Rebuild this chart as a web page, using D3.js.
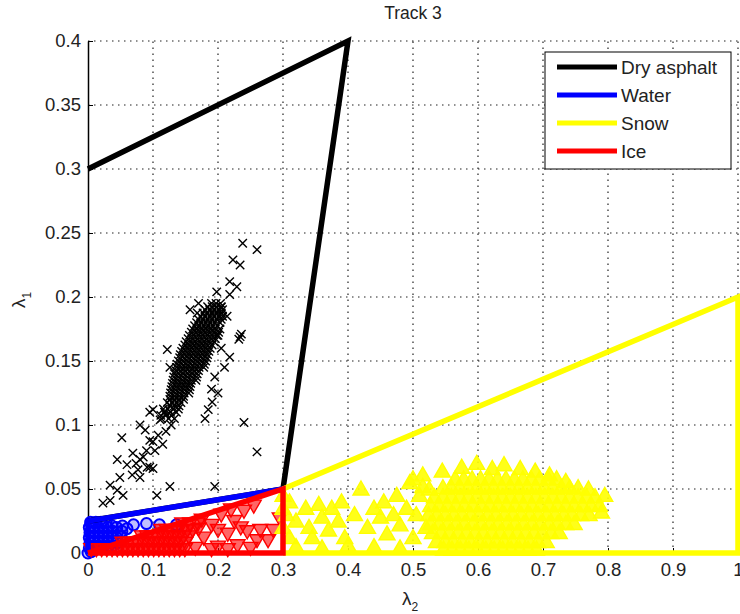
<!DOCTYPE html>
<html><head><meta charset="utf-8">
<script src="https://cdn.jsdelivr.net/npm/d3@7"></script>
<style>
body{margin:0;background:#fff}
svg{display:block;font-family:"Liberation Sans",Arial,sans-serif}
</style>
</head><body>
<svg id="chart" width="740" height="614"></svg>
<script>
// ---------- data ----------
const titleText = "Track 3";
const xTicks = [0,0.1,0.2,0.3,0.4,0.5,0.6,0.7,0.8,0.9,1];
const xTickLabels = ["0","0.1","0.2","0.3","0.4","0.5","0.6","0.7","0.8","0.9","1"];
const yTicks = [0,0.05,0.1,0.15,0.2,0.25,0.3,0.35,0.4];
const yTickLabels = ["0","0.05","0.1","0.15","0.2","0.25","0.3","0.35","0.4"];

const regionNames = ["Dry asphalt","Water","Snow","Ice"];
const regionColors = ["#000000","#0000ff","#ffff00","#ff0000"];

// region boundaries (data units)
const dryBoundary  = [[0,0.3],[0.4,0.4],[0.3,0.05],[0,0.025]];
const waterBoundary = [[0,0],[0,0.025],[0.3,0.05]];
const snowBoundary = [[0.3,0.05],[1,0.2],[1,0],[0.3,0]];
const iceBoundary  = [[0,0],[0.3,0.05],[0.3,0],[0,0]];

// measured points: dry asphalt (x markers)
const dryPoints = [
[0.190,0.195],[0.197,0.195],[0.204,0.195],
[0.180,0.19],[0.187,0.19],[0.194,0.19],[0.201,0.19],[0.207,0.19],
[0.173,0.185],[0.180,0.185],[0.187,0.185],[0.194,0.185],[0.201,0.185],[0.207,0.185],
[0.167,0.18],[0.174,0.18],[0.181,0.18],[0.188,0.18],[0.195,0.18],[0.203,0.18],
[0.161,0.175],[0.168,0.175],[0.175,0.175],[0.182,0.175],[0.189,0.175],[0.196,0.175],[0.203,0.175],
[0.156,0.17],[0.163,0.17],[0.170,0.17],[0.177,0.17],[0.184,0.17],[0.191,0.17],[0.198,0.17],
[0.151,0.165],[0.158,0.165],[0.165,0.165],[0.172,0.165],[0.179,0.165],[0.186,0.165],[0.194,0.165],
[0.146,0.16],[0.153,0.16],[0.160,0.16],[0.167,0.16],[0.174,0.16],[0.181,0.16],[0.188,0.16],
[0.142,0.155],[0.149,0.155],[0.156,0.155],[0.163,0.155],[0.170,0.155],[0.177,0.155],[0.184,0.155],
[0.139,0.15],[0.146,0.15],[0.153,0.15],[0.160,0.15],[0.167,0.15],[0.174,0.15],[0.181,0.15],
[0.136,0.145],[0.143,0.145],[0.150,0.145],[0.157,0.145],[0.164,0.145],[0.171,0.145],[0.178,0.145],
[0.133,0.14],[0.140,0.14],[0.147,0.14],[0.154,0.14],[0.161,0.14],[0.168,0.14],
[0.131,0.135],[0.138,0.135],[0.145,0.135],[0.152,0.135],[0.159,0.135],[0.166,0.135],
[0.129,0.13],[0.136,0.13],[0.143,0.13],[0.150,0.13],[0.157,0.13],
[0.127,0.125],[0.134,0.125],[0.141,0.125],[0.148,0.125],[0.155,0.125],
[0.126,0.12],[0.133,0.12],[0.140,0.12],[0.147,0.12],
[0.126,0.115],[0.133,0.115],[0.140,0.115],
[0.118,0.11],[0.127,0.11],[0.136,0.11],
[0.113,0.105],[0.124,0.105],[0.133,0.105],
[0.184,0.1925],[0.191,0.1925],[0.198,0.1925],[0.205,0.1925],
[0.177,0.1875],[0.184,0.1875],[0.191,0.1875],[0.198,0.1875],[0.205,0.1875],
[0.170,0.1825],[0.177,0.1825],[0.184,0.1825],[0.191,0.1825],[0.198,0.1825],[0.205,0.1825],
[0.164,0.1775],[0.171,0.1775],[0.178,0.1775],[0.185,0.1775],[0.192,0.1775],[0.199,0.1775],
[0.159,0.1725],[0.166,0.1725],[0.173,0.1725],[0.180,0.1725],[0.187,0.1725],[0.194,0.1725],[0.201,0.1725],
[0.154,0.1675],[0.161,0.1675],[0.168,0.1675],[0.175,0.1675],[0.182,0.1675],[0.189,0.1675],[0.196,0.1675],
[0.149,0.1625],[0.156,0.1625],[0.163,0.1625],[0.170,0.1625],[0.177,0.1625],[0.184,0.1625],[0.191,0.1625],
[0.144,0.1575],[0.151,0.1575],[0.158,0.1575],[0.165,0.1575],[0.172,0.1575],[0.179,0.1575],[0.186,0.1575],
[0.141,0.1525],[0.148,0.1525],[0.155,0.1525],[0.162,0.1525],[0.169,0.1525],[0.176,0.1525],[0.183,0.1525],
[0.137,0.1475],[0.144,0.1475],[0.151,0.1475],[0.158,0.1475],[0.165,0.1475],[0.172,0.1475],[0.179,0.1475],
[0.135,0.1425],[0.142,0.1425],[0.149,0.1425],[0.156,0.1425],[0.163,0.1425],[0.170,0.1425],
[0.132,0.1375],[0.139,0.1375],[0.146,0.1375],[0.153,0.1375],[0.160,0.1375],[0.167,0.1375],
[0.130,0.1325],[0.137,0.1325],[0.144,0.1325],[0.151,0.1325],[0.158,0.1325],
[0.128,0.1275],[0.135,0.1275],[0.142,0.1275],[0.149,0.1275],[0.156,0.1275],
[0.126,0.1225],[0.133,0.1225],[0.140,0.1225],[0.147,0.1225],
[0.122,0.1175],[0.129,0.1175],[0.136,0.1175],[0.143,0.1175],
[0.116,0.1125],[0.123,0.1125],[0.131,0.1125],[0.139,0.1125],
[0.112,0.1075],[0.120,0.1075],[0.128,0.1075],
[0.238,0.242],[0.260,0.237],[0.223,0.229],[0.234,0.225],[0.218,0.212],[0.229,0.208],
[0.198,0.204],[0.218,0.202],[0.234,0.169],[0.236,0.171],[0.232,0.167],[0.218,0.153],
[0.195,0.1375],[0.191,0.118],[0.180,0.105],[0.240,0.102],[0.260,0.079],[0.052,0.090],
[0.080,0.100],[0.100,0.112],[0.100,0.087],[0.045,0.073],[0.060,0.069],[0.069,0.078],
[0.080,0.073],[0.091,0.067],[0.100,0.066],[0.068,0.061],[0.080,0.059],[0.034,0.053],
[0.045,0.049],[0.054,0.045],[0.023,0.039],[0.034,0.041],[0.106,0.045],[0.126,0.052],
[0.049,0.059],[0.195,0.052],[0.077,0.065],[0.095,0.067],[0.088,0.096],[0.095,0.088],
[0.111,0.104],[0.118,0.110],[0.103,0.080],[0.120,0.095],[0.108,0.092],[0.128,0.100],
[0.115,0.085],[0.090,0.080],[0.074,0.070],[0.085,0.075],[0.200,0.170],[0.205,0.160],
[0.210,0.145],[0.190,0.128],[0.185,0.112],[0.200,0.125],[0.170,0.195],[0.205,0.192],
[0.214,0.185],[0.122,0.159],[0.126,0.145],[0.095,0.110],[0.157,0.190],[0.168,0.1875]
];

// water (circles)
const waterPoints = [
[0.002,0.004],[0.009,0.005],[0.016,0.004],[0.023,0.005],[0.030,0.004],[0.037,0.005],[0.044,0.004],
[0.003,0.008],[0.010,0.009],[0.017,0.008],[0.024,0.009],[0.031,0.008],[0.038,0.009],[0.045,0.008],
[0.002,0.012],[0.009,0.013],[0.016,0.012],[0.023,0.013],[0.030,0.012],[0.037,0.013],[0.044,0.012],[0.051,0.013],
[0.003,0.016],[0.010,0.017],[0.017,0.016],[0.024,0.017],[0.031,0.016],[0.038,0.017],[0.045,0.016],[0.052,0.017],
[0.002,0.020],[0.009,0.021],[0.016,0.020],[0.023,0.021],[0.030,0.020],[0.037,0.021],[0.044,0.020],[0.053,0.021],
[0.004,0.024],[0.012,0.024],[0.020,0.024],[0.028,0.024],[0.060,0.019],
[0.070,0.022],[0.090,0.023],[0.110,0.022],[0.136,0.022],[0.000,0.000],[0.005,0.001]
];

// snow (up triangles)
const snowPoints = [
[0.565,0.058],[0.578,0.058],[0.591,0.058],[0.604,0.058],[0.617,0.058],[0.630,0.058],[0.643,0.058],
[0.656,0.058],[0.669,0.058],[0.682,0.058],[0.695,0.058],[0.708,0.058],[0.721,0.058],
[0.546,0.051],[0.559,0.051],[0.572,0.051],[0.585,0.051],[0.598,0.051],[0.611,0.051],[0.624,0.051],
[0.637,0.051],[0.650,0.051],[0.663,0.051],[0.676,0.051],[0.689,0.051],[0.702,0.051],[0.715,0.051],
[0.728,0.051],[0.741,0.051],[0.754,0.051],
[0.533,0.044],[0.546,0.044],[0.559,0.044],[0.572,0.044],[0.585,0.044],[0.598,0.044],[0.611,0.044],
[0.624,0.044],[0.637,0.044],[0.650,0.044],[0.663,0.044],[0.676,0.044],[0.689,0.044],[0.702,0.044],
[0.715,0.044],[0.728,0.044],[0.741,0.044],[0.754,0.044],[0.767,0.044],[0.780,0.044],
[0.527,0.037],[0.540,0.037],[0.553,0.037],[0.566,0.037],[0.579,0.037],[0.592,0.037],[0.605,0.037],
[0.618,0.037],[0.631,0.037],[0.644,0.037],[0.657,0.037],[0.670,0.037],[0.683,0.037],[0.696,0.037],
[0.709,0.037],[0.722,0.037],[0.735,0.037],[0.748,0.037],[0.761,0.037],[0.774,0.037],[0.787,0.037],
[0.524,0.030],[0.537,0.030],[0.550,0.030],[0.563,0.030],[0.576,0.030],[0.589,0.030],[0.602,0.030],
[0.615,0.030],[0.628,0.030],[0.641,0.030],[0.654,0.030],[0.667,0.030],[0.680,0.030],[0.693,0.030],
[0.706,0.030],[0.719,0.030],[0.732,0.030],[0.745,0.030],[0.758,0.030],[0.771,0.030],
[0.527,0.023],[0.540,0.023],[0.553,0.023],[0.566,0.023],[0.579,0.023],[0.592,0.023],[0.605,0.023],
[0.618,0.023],[0.631,0.023],[0.644,0.023],[0.657,0.023],[0.670,0.023],[0.683,0.023],[0.696,0.023],
[0.709,0.023],[0.722,0.023],[0.735,0.023],[0.748,0.023],
[0.530,0.016],[0.543,0.016],[0.556,0.016],[0.569,0.016],[0.582,0.016],[0.595,0.016],[0.608,0.016],
[0.621,0.016],[0.634,0.016],[0.647,0.016],[0.660,0.016],[0.673,0.016],[0.686,0.016],[0.699,0.016],
[0.712,0.016],[0.725,0.016],
[0.536,0.009],[0.549,0.009],[0.562,0.009],[0.575,0.009],[0.588,0.009],[0.601,0.009],[0.614,0.009],
[0.627,0.009],[0.640,0.009],[0.653,0.009],[0.666,0.009],[0.679,0.009],[0.692,0.009],[0.705,0.009],
[0.547,0.003],[0.560,0.003],[0.573,0.003],[0.586,0.003],[0.599,0.003],[0.612,0.003],[0.625,0.003],
[0.638,0.003],[0.651,0.003],[0.664,0.003],[0.677,0.003],[0.690,0.003],
[0.500,0.058],[0.515,0.061],[0.545,0.064],[0.575,0.067],[0.598,0.070],[0.622,0.066],[0.640,0.069],
[0.665,0.066],[0.688,0.064],[0.710,0.061],[0.735,0.056],[0.770,0.050],[0.795,0.045],[0.790,0.032],
[0.310,0.012],[0.305,0.030],[0.310,0.040],[0.320,0.025],[0.335,0.035],[0.340,0.020],[0.345,0.012],
[0.355,0.038],[0.360,0.028],[0.370,0.018],[0.375,0.035],[0.385,0.025],[0.390,0.040],[0.395,0.012],
[0.410,0.030],[0.420,0.050],[0.430,0.020],[0.440,0.035],[0.450,0.028],[0.455,0.040],[0.460,0.015],
[0.470,0.030],[0.475,0.045],[0.480,0.022],[0.490,0.035],[0.495,0.055],[0.500,0.012],[0.505,0.030],
[0.510,0.045],[0.520,0.020],[0.515,0.052],[0.525,0.050],[0.320,0.005],[0.360,0.004],[0.400,0.006],
[0.440,0.005],[0.480,0.004],[0.300,0.020],[0.300,0.035],[0.300,0.045]
];

// ice (down triangles)
const icePoints = [
[0.005,0.003],[0.013,0.003],[0.021,0.003],[0.029,0.003],[0.037,0.003],[0.045,0.003],[0.053,0.003],
[0.061,0.003],[0.069,0.003],[0.077,0.003],[0.085,0.003],[0.093,0.003],[0.101,0.003],[0.109,0.003],
[0.117,0.003],[0.125,0.003],[0.133,0.003],[0.141,0.003],[0.149,0.003],
[0.053,0.008],[0.061,0.008],[0.069,0.008],[0.077,0.008],[0.085,0.008],[0.093,0.008],[0.101,0.008],
[0.109,0.008],[0.117,0.008],[0.125,0.008],[0.133,0.008],[0.141,0.008],[0.150,0.008],
[0.083,0.013],[0.091,0.013],[0.099,0.013],[0.107,0.013],[0.115,0.013],[0.123,0.013],[0.131,0.013],
[0.139,0.013],[0.147,0.013],[0.155,0.013],
[0.113,0.018],[0.121,0.018],[0.129,0.018],[0.137,0.018],[0.145,0.018],[0.153,0.018],[0.161,0.018],
[0.145,0.023],[0.157,0.023],[0.169,0.023],
[0.165,0.004],[0.178,0.012],[0.190,0.022],[0.200,0.005],[0.205,0.030],[0.215,0.015],[0.225,0.025],
[0.230,0.006],[0.240,0.033],[0.245,0.017],[0.260,0.010],[0.265,0.018],[0.277,0.010],[0.285,0.018],
[0.295,0.027],[0.255,0.037],[0.215,0.003],[0.175,0.026],[0.190,0.003],[0.170,0.019],[0.235,0.020],
[0.250,0.004],[0.200,0.018],[0.220,0.034]
];

// ---------- drawing ----------
const svg = d3.select("#chart");
const x = d3.scaleLinear().domain([0,1]).range([88,738]);
const y = d3.scaleLinear().domain([0,0.4]).range([553,41]);

// grid
const grid = svg.append("g").attr("stroke","#222").attr("stroke-width",1.2)
  .attr("stroke-dasharray","1.5,4.5");
grid.selectAll("line.v").data(xTicks.filter(d=>d>0)).join("line").attr("class","v")
  .attr("x1",d=>x(d)).attr("x2",d=>x(d)).attr("y1",y(0)).attr("y2",y(0.4));
grid.selectAll("line.h").data(yTicks.filter(d=>d>0)).join("line").attr("class","h")
  .attr("x1",x(0)).attr("x2",x(1)).attr("y1",d=>y(d)).attr("y2",d=>y(d));

// axes
const yAxis = d3.axisLeft(y).tickValues(yTicks).tickFormat((d,i)=>yTickLabels[i])
  .tickSizeInner(-5).tickSizeOuter(0).tickPadding(7);
const xAxis = d3.axisBottom(x).tickValues(xTicks).tickFormat((d,i)=>xTickLabels[i])
  .tickSizeInner(-5).tickSizeOuter(0).tickPadding(10);
const gy = svg.append("g").attr("transform",`translate(${x(0)},0)`).call(yAxis);
const gx = svg.append("g").attr("transform",`translate(0,${y(0)})`).call(xAxis);
[gx,gy].forEach(g=>{
  g.selectAll("text").attr("font-size",18.5).attr("fill","#222")
   .attr("font-family","'Liberation Sans',Arial,sans-serif");
  g.select(".domain").attr("stroke","#000").attr("stroke-width",1.5);
  g.selectAll(".tick line").attr("stroke","#000");
});

// markers
const crossPath = "M-4.2,-4.2L4.2,4.2M-4.2,4.2L4.2,-4.2";
const upTri = "M0,-8L8,6L-8,6Z";
const downTri = "M0,7.5L7.5,-5.5L-7.5,-5.5Z";

svg.append("g").selectAll("path").data(dryPoints).join("path")
  .attr("d",crossPath).attr("transform",d=>`translate(${x(d[0])},${y(d[1])})`)
  .attr("fill","none").attr("stroke","#000").attr("stroke-width",1.4);

svg.append("g").selectAll("circle").data(waterPoints).join("circle")
  .attr("cx",d=>x(d[0])).attr("cy",d=>y(d[1])).attr("r",5.5)
  .attr("fill",regionColors[1]).attr("fill-opacity",0.25)
  .attr("stroke",regionColors[1]).attr("stroke-width",2);

svg.append("g").selectAll("path").data(icePoints).join("path")
  .attr("d",downTri).attr("transform",d=>`translate(${x(d[0])},${y(d[1])})`)
  .attr("fill",regionColors[3]).attr("fill-opacity",0.6)
  .attr("stroke",regionColors[3]).attr("stroke-width",1.4);

svg.append("g").selectAll("path").data(snowPoints).join("path")
  .attr("d",upTri).attr("transform",d=>`translate(${x(d[0])},${y(d[1])})`)
  .attr("fill",regionColors[2]).attr("fill-opacity",0.9)
  .attr("stroke",regionColors[2]).attr("stroke-width",1.4);

// boundaries
const line = d3.line().x(d=>x(d[0])).y(d=>y(d[1]));
const boundaries = [dryBoundary, waterBoundary, snowBoundary, iceBoundary];
svg.append("g").selectAll("path").data(boundaries).join("path")
  .attr("d",line).attr("fill","none")
  .attr("stroke",(d,i)=>regionColors[i]).attr("stroke-width",5.5)
  .attr("stroke-linejoin","miter");

// legend
const lg = svg.append("g");
lg.append("rect").attr("x",545).attr("y",52).attr("width",186).attr("height",117)
  .attr("fill","#fff").attr("stroke","#000").attr("stroke-width",1);
regionNames.forEach((n,i)=>{
  const ly = 67 + i*28;
  lg.append("line").attr("x1",557).attr("x2",617).attr("y1",ly).attr("y2",ly)
    .attr("stroke",regionColors[i]).attr("stroke-width",5);
  lg.append("text").attr("x",621).attr("y",ly+7).attr("font-size",19).attr("fill","#222").text(n);
});

// title and labels
svg.append("text").attr("x",413).attr("y",19).attr("text-anchor","middle")
  .attr("font-size",17.5).attr("fill","#222").text(titleText);
const xl = svg.append("text").attr("x",410).attr("y",605).attr("text-anchor","middle")
  .attr("font-size",19).attr("fill","#222");
xl.append("tspan").text("λ");
xl.append("tspan").attr("font-size",12).attr("dy",6).text("2");
const yl = svg.append("text").attr("transform","translate(25,300) rotate(-90)")
  .attr("text-anchor","middle").attr("font-size",19).attr("fill","#222");
yl.append("tspan").text("λ");
yl.append("tspan").attr("font-size",12).attr("dy",6).text("1");
</script>
</body></html>
